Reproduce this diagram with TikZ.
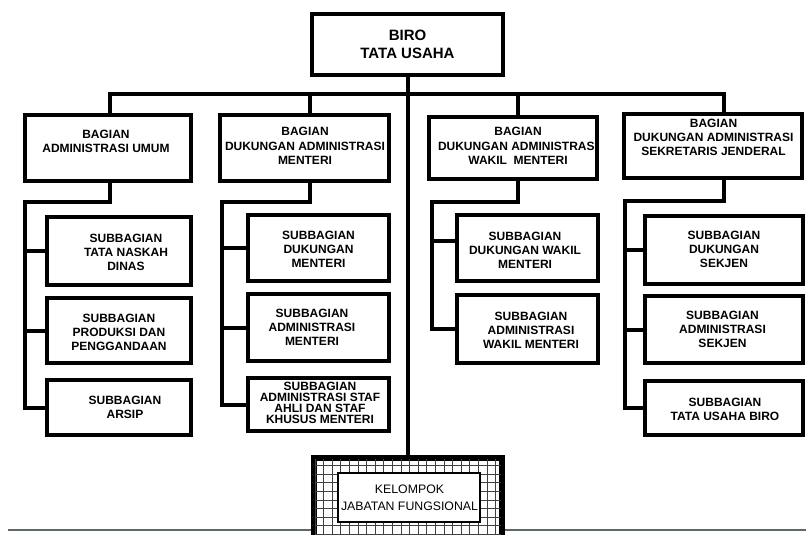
\documentclass[tikz,border=0pt]{standalone}
\usepackage{fontspec}
\setmainfont{Liberation Sans}
\definecolor{rulegrey}{RGB}{95,105,100}
\begin{document}
\begin{tikzpicture}[x=1pt,y=-1pt,
  box/.style={draw, line width=4pt, inner sep=0pt, fill=white},
  conn/.style={line width=4pt, line join=miter},
  ttop/.style={font=\fontsize{15}{18}\selectfont\bfseries, align=center, inner sep=0pt},
  tlvl/.style={font=\fontsize{12}{14.3}\selectfont\bfseries, align=center, inner sep=0pt},
  tsub/.style={font=\fontsize{12}{14}\selectfont\bfseries, align=center, inner sep=0pt},
  ttight/.style={font=\fontsize{12}{10.8}\selectfont\bfseries, align=center, inner sep=0pt},
  tfun/.style={font=\fontsize{12.3}{17.5}\selectfont, align=center, inner sep=0pt},
  gridline/.style={line width=0.7pt, black!75}
]
\useasboundingbox (0,0) rectangle (806,535);
\clip (0,0) rectangle (806,535);

% bottom rule of the page
\coordinate (ruleL) at (8,530);
\coordinate (ruleR) at (806,530);
\draw[line width=2.5pt, rulegrey] (ruleL) -- (ruleR);

% top box
\node[box, minimum width=191pt, minimum height=61pt] (biro) at (407.5,44.5) {};
\node[ttop] (birot) at (407.5,44) {BIRO\\TATA USAHA};

% level 2 boxes
\node[box, minimum width=166pt, minimum height=66pt] (b1) at (108,147.5) {};
\node[box, minimum width=169pt, minimum height=66pt] (b2) at (304.5,147.5) {};
\node[box, minimum width=168pt, minimum height=62pt] (b3) at (513,147.5) {};
\node[box, minimum width=178pt, minimum height=64pt] (b4) at (713,146) {};
\node[tlvl] (b1t) at (106,141.5) {BAGIAN\\ADMINISTRASI UMUM};
\node[tlvl] (b2t) at (305,146) {BAGIAN\\DUKUNGAN ADMINISTRASI\\MENTERI};
\node[tlvl] (b3t) at (518,146) {BAGIAN\\DUKUNGAN ADMINISTRASI\\WAKIL\ \ MENTERI};
\node[tlvl] (b4t) at (713.5,137.5) {BAGIAN\\DUKUNGAN ADMINISTRASI\\SEKRETARIS JENDERAL};

% sub boxes, column 1
\node[box, minimum width=144pt, minimum height=68pt] (s11) at (119,251) {};
\node[box, minimum width=144pt, minimum height=65pt] (s12) at (119,330.5) {};
\node[box, minimum width=144pt, minimum height=55pt] (s13) at (119,407.5) {};
\node[tsub] (s11t) at (126,252) {SUBBAGIAN\\TATA NASKAH\\DINAS};
\node[tsub] (s12t) at (119,332) {SUBBAGIAN\\PRODUKSI DAN\\PENGGANDAAN};
\node[tsub] (s13t) at (125,407) {SUBBAGIAN\\ARSIP};

% column 2
\node[box, minimum width=141pt, minimum height=66pt] (s21) at (318.5,248) {};
\node[box, minimum width=141pt, minimum height=67pt] (s22) at (318.5,327.5) {};
\node[box, minimum width=141pt, minimum height=53pt] (s23) at (318.5,404.5) {};
\node[tsub] (s21t) at (318.5,249) {SUBBAGIAN\\DUKUNGAN\\MENTERI};
\node[tsub] (s22t) at (312,327) {SUBBAGIAN\\ADMINISTRASI\\MENTERI};
\node[ttight] (s23t) at (320,403) {SUBBAGIAN\\ADMINISTRASI STAF\\AHLI DAN STAF\\KHUSUS MENTERI};

% column 3
\node[box, minimum width=141pt, minimum height=66pt] (s31) at (527.5,248) {};
\node[box, minimum width=141pt, minimum height=68pt] (s32) at (527.5,329) {};
\node[tsub] (s31t) at (525,250) {SUBBAGIAN\\DUKUNGAN WAKIL\\MENTERI};
\node[tsub] (s32t) at (531,330) {SUBBAGIAN\\ADMINISTRASI\\WAKIL MENTERI};

% column 4
\node[box, minimum width=158pt, minimum height=68pt] (s41) at (724,250) {};
\node[box, minimum width=158pt, minimum height=67pt] (s42) at (724,329.5) {};
\node[box, minimum width=158pt, minimum height=54pt] (s43) at (724,408) {};
\node[tsub] (s41t) at (724,249) {SUBBAGIAN\\DUKUNGAN\\SEKJEN};
\node[tsub] (s42t) at (722.5,329.5) {SUBBAGIAN\\ADMINISTRASI\\SEKJEN};
\node[tsub] (s43t) at (725,409) {SUBBAGIAN\\TATA USAHA BIRO};

% functional group box
\node[box, minimum width=186pt, minimum height=110pt, anchor=north] (kel) at (408,457) {};
\begin{scope}
  \clip (kel.north west) rectangle (kel.south east);
  \foreach \k in {0,...,22} {
    \draw[gridline] (315+\k*8.6,450) -- (315+\k*8.6,570);
  }
  \foreach \k in {0,...,13} {
    \draw[gridline] (310,457+\k*8.6) -- (505,457+\k*8.6);
  }
\end{scope}
\draw[line width=4pt] (kel.south west) -- (kel.north west) -- (kel.north east) -- (kel.south east);
\node[draw, line width=1.2pt, fill=white, minimum width=142pt, minimum height=49pt, inner sep=0pt] (kelin) at (409,497.5) {};
\node[tfun] (kelt) at (409.5,498) {KELOMPOK\\JABATAN FUNGSIONAL};

% connectors
\draw[conn] (biro.south) -- (biro.south |- kel.north);
\coordinate (busL) at (110,94);
\coordinate (busR) at (724,94);
\coordinate (bus2) at (310,94);
\coordinate (bus3) at (518,94);
\draw[conn] (busL |- b1.north) -- (busL) -- (busR) -- (busR |- b4.north);
\draw[conn] (bus2) -- (bus2 |- b2.north);
\draw[conn] (bus3) -- (bus3 |- b3.north);

% column 1 links
\coordinate (d1) at (110,202);
\coordinate (sp1) at (25,202);
\draw[conn] (d1 |- b1.south) -- (d1) -- (sp1) -- (sp1 |- s13.west) -- (s13.west);
\draw[conn] (sp1 |- s11.west) -- (s11.west);
\draw[conn] (sp1 |- s12.west) -- (s12.west);

% column 2 links
\coordinate (d2) at (310,202);
\coordinate (sp2) at (222,202);
\draw[conn] (d2 |- b2.south) -- (d2) -- (sp2) -- (sp2 |- s23.west) -- (s23.west);
\draw[conn] (sp2 |- s21.west) -- (s21.west);
\draw[conn] (sp2 |- s22.west) -- (s22.west);

% column 3 links
\coordinate (d3) at (518,202);
\coordinate (sp3) at (432,202);
\coordinate (br31) at (432,241);
\draw[conn] (d3 |- b3.south) -- (d3) -- (sp3) -- (sp3 |- s32.west) -- (s32.west);
\draw[conn] (br31) -- (br31 -| s31.west);

% column 4 links
\coordinate (d4) at (724,201);
\coordinate (sp4) at (625,201);
\draw[conn] (d4 |- b4.south) -- (d4) -- (sp4) -- (sp4 |- s43.west) -- (s43.west);
\draw[conn] (sp4 |- s41.west) -- (s41.west);
\draw[conn] (sp4 |- s42.west) -- (s42.west);
\end{tikzpicture}
\end{document}
